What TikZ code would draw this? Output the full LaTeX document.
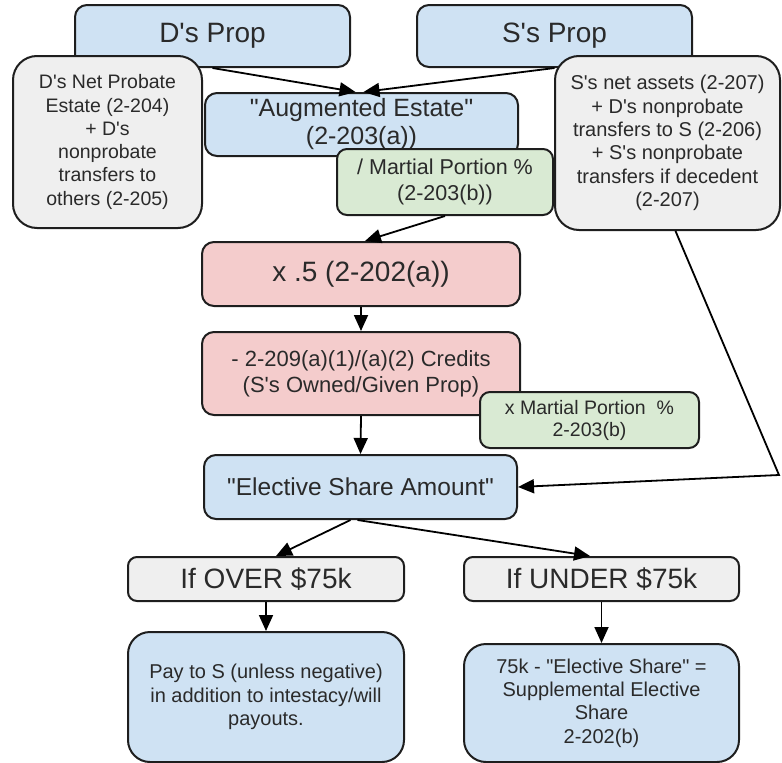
\documentclass[tikz,border=0pt]{standalone}
\usepackage{fontspec}
\setmainfont{Liberation Sans}[Ligatures=TeXReset]
\usetikzlibrary{arrows.meta}
\definecolor{bfill}{HTML}{CFE2F3}
\definecolor{gfill}{HTML}{EFEFEF}
\definecolor{grfill}{HTML}{D9EAD3}
\definecolor{pfill}{HTML}{F4CCCC}
\definecolor{edge}{HTML}{1E1E1E}
\definecolor{txt}{HTML}{2A2A2A}
\tikzset{
  box/.style={draw=edge, line width=2pt, rounded corners=12pt, align=center, inner sep=0pt, text=txt},
  bluebox/.style={box, fill=bfill},
  graybox/.style={box, fill=gfill, rounded corners=24pt},
  greenbox/.style={box, fill=grfill, rounded corners=10pt},
  pinkbox/.style={box, fill=pfill},
  arr/.style={draw=black, line width=1.8pt, -{Triangle[length=16pt,width=14pt]}},
}
\newcommand{\fs}[2]{\fontsize{#1}{#2}\selectfont}
\begin{document}
\begin{tikzpicture}[x=1pt,y=-1pt]
\useasboundingbox (0,0) rectangle (782,763);
% top row
\node[bluebox, minimum width=275pt, minimum height=62pt, font=\fs{28}{32}] (dprop) at (212.5,36) {D's Prop};
\node[bluebox, minimum width=275pt, minimum height=62pt, font=\fs{28}{32}] (sprop) at (554.5,36) {S's Prop};
\node[graybox, minimum width=189pt, minimum height=172pt, font=\fs{19.5}{23.3}] (dnet) at (107.5,142)
  {D's Net Probate\\Estate (2-204)\\+ D's\\nonprobate\\transfers to\\others (2-205)};
\node[graybox, minimum width=225pt, minimum height=174pt, font=\fs{20}{23.3}] (snet) at (667.5,143)
  {S's net assets (2-207)\\+ D's nonprobate\\transfers to S (2-206)\\+ S's nonprobate\\transfers if decedent\\(2-207)};
\node[bluebox, minimum width=313pt, minimum height=63pt, font=\fs{25}{28}] (aug) at (361.5,124.5)
  {"Augmented Estate"\\(2-203(a))};
\node[greenbox, minimum width=216pt, minimum height=66pt, font=\fs{21.5}{25.5}] (mp1) at (445,182)
  {/ Martial Portion \%\\(2-203(b))};
% middle
\node[pinkbox, minimum width=318pt, minimum height=64pt, font=\fs{28}{32}] (half) at (361,274) {x .5 (2-202(a))};
\node[pinkbox, minimum width=318pt, minimum height=83pt, font=\fs{22}{26}] (cred) at (361,373.5)
  {- 2-209(a)(1)/(a)(2) Credits\\(S's Owned/Given Prop)};
\node[greenbox, minimum width=219pt, minimum height=56pt, font=\fs{19.5}{22}] (mp2) at (589.5,420)
  {x Martial Portion\ \ \%\\2-203(b)};
\node[bluebox, minimum width=313pt, minimum height=64pt, font=\fs{24.5}{28}] (esa) at (360.5,487)
  {"Elective Share Amount"};
% bottom
\node[box, fill=gfill, rounded corners=9pt, minimum width=276pt, minimum height=44pt, font=\fs{28}{32}] (over) at (266,579) {If OVER \$75k};
\node[box, fill=gfill, rounded corners=9pt, minimum width=275pt, minimum height=44pt, font=\fs{28}{32}] (under) at (601.5,579) {If UNDER \$75k};
\node[bluebox, rounded corners=22pt, minimum width=276pt, minimum height=130pt, font=\fs{20}{23.3}] (pay) at (266,697)
  {Pay to S (unless negative)\\in addition to intestacy/will\\payouts.};
\node[bluebox, rounded corners=22pt, minimum width=275pt, minimum height=118pt, font=\fs{20}{23.3}] (supp) at (601.5,703)
  {75k - "Elective Share" =\\Supplemental Elective\\Share\\2-202(b)};
% connectors
\coordinate (bend) at (779,475);
\draw[arr] (dprop.south) -- ([xshift=-6pt]aug.north);
\draw[arr] (sprop.south) -- ([xshift=2pt]aug.north);
\draw[arr] (mp1.south) -- ([xshift=4pt]half.north);
\draw[arr] (half.south) -- (cred.north);
\draw[arr] (cred.south) -- (esa.north);
\draw[arr] ([xshift=8pt]snet.south) -- (bend) -- (esa.east);
\draw[arr] ([xshift=-10pt]esa.south) -- ([xshift=10pt]over.north);
\draw[arr] ([xshift=-3pt]esa.south) -- ([xshift=-11.5pt]under.north);
\draw[arr] (over.south) -- (pay.north);
\draw[arr] (under.south) -- (supp.north);
\end{tikzpicture}
\end{document}
